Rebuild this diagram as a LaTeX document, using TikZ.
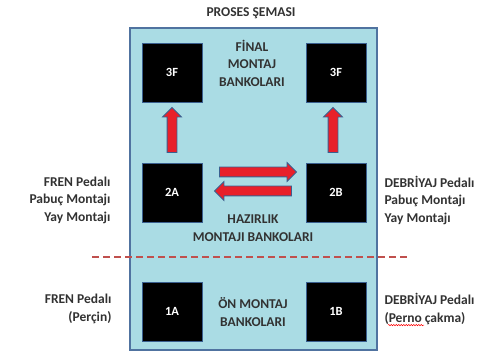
\documentclass[tikz,border=0pt]{standalone}
\usepackage{fontspec}
\setmainfont{Carlito}[BoldFont={Carlito Bold}]
\usetikzlibrary{shapes.arrows,calc,decorations.pathmorphing}
\definecolor{panelblue}{RGB}{170,220,228}
\definecolor{panelline}{RGB}{80,115,160}
\definecolor{arrowred}{RGB}{232,32,42}
\definecolor{arrowline}{RGB}{58,95,143}
\definecolor{cutline}{RGB}{192,80,77}
\definecolor{labelgray}{RGB}{50,50,50}
\tikzset{
  station/.style={draw=arrowline, fill=black, line width=0.8pt, minimum width=60pt, minimum height=59pt, inner sep=0pt, text=white, font=\fontsize{12.5}{15}\selectfont\bfseries},
  blockarrow/.style={single arrow, draw=arrowline, fill=arrowred, line width=0.8pt, inner xsep=0pt, inner ysep=4.5pt, single arrow head extend=4.5pt, single arrow head indent=0pt},
  sidetext/.style={text=labelgray, align=right},
  midtext/.style={text=labelgray, align=center}
}
\begin{document}
\begin{tikzpicture}[x=1pt, y=-1pt, every node/.style={font=\fontsize{13.5}{17.5}\selectfont\bfseries}]
  \useasboundingbox (0,0) rectangle (478,352);
  \node[text=labelgray] (title) at (251,13) {PROSES ŞEMASI};
  \draw[fill=panelblue, draw=panelline, line width=1.4pt] (130,28) rectangle (377,350);
  % istasyonlar
  \foreach \n/\x/\y/\t in {f3l/172/72.5/3F, f3r/336/72.5/3F, a2/172/192.5/2A, b2/336/192.5/2B, a1/172/311.5/1A, b1/336/311.5/1B} {
    \node[station] (\n) at (\x,\y) {\t};
  }
  \node[midtext] (final) at (252,63) {FİNAL\\MONTAJ\\BANKOLARI};
  \node[midtext] (hazir) at (253,228) {HAZIRLIK\\MONTAJI BANKOLARI};
  \node[midtext] (onm) at (253,312) {ÖN MONTAJ\\BANKOLARI};
  % oklar
  \node[blockarrow, rotate=90, minimum height=45pt] (upl) at ($(a2.north)!0.5!(f3l.south)$) {};
  \node[blockarrow, rotate=90, minimum height=45pt] (upr) at ($(b2.north)!0.5!(f3r.south)+(-3,0)$) {};
  \node[blockarrow, minimum height=77pt] (toright) at ($(a2.east)!0.5!(b2.west)+(1.5,-20.5)$) {};
  \node[blockarrow, rotate=180, minimum height=77pt] (toleft) at ($(a2.east)!0.5!(b2.west)+(1.5,-1.5)$) {};
  % ayirma cizgisi
  \coordinate (cutL) at (92,257);
  \coordinate (cutR) at (409,257);
  \draw[cutline, line width=2.4pt, dash pattern=on 7pt off 4pt] (cutL) -- (cutR);
  % yan etiketler
  \node[sidetext, anchor=east] (frenA) at (114,200) {FREN Pedalı\\Pabuç Montajı\\Yay Montajı};
  \node[sidetext, anchor=west, align=left] (debrB) at (381,200) {DEBRİYAJ Pedalı\\Pabuç Montajı\\Yay Montajı};
  \node[sidetext, anchor=east] (frenP) at (115,309) {FREN Pedalı\\(Perçin)};
  \node[sidetext, anchor=west, align=left] (debrP) at (381,309) {DEBRİYAJ Pedalı\\(Perno çakma)};
  \draw[red, line width=0.5pt, decorate, decoration={snake, amplitude=0.7pt, segment length=2.5pt}] ($(debrP.south west)+(7,-3)$) -- ++(36,0);
\end{tikzpicture}
\end{document}
